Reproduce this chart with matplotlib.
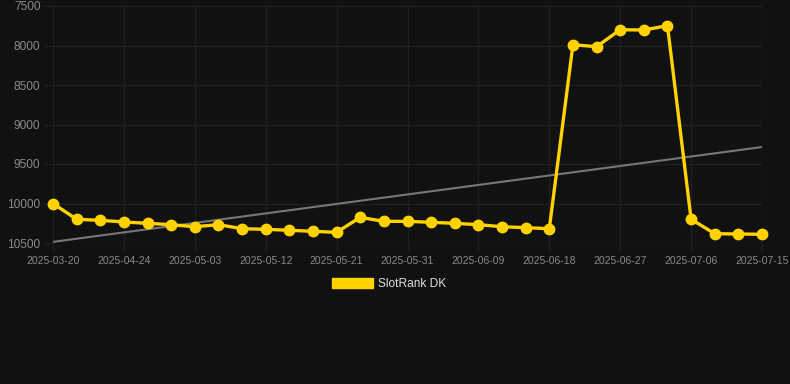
import matplotlib
matplotlib.use("Agg")
import matplotlib.pyplot as plt
from matplotlib.patches import Patch
import numpy as np

plt.rcParams['font.family'] = ['Liberation Sans', 'DejaVu Sans']

dates = ["2025-03-20", "2025-04-18", "2025-04-21", "2025-04-24", "2025-04-27",
         "2025-04-30", "2025-05-03", "2025-05-06", "2025-05-09", "2025-05-12",
         "2025-05-15", "2025-05-18", "2025-05-21", "2025-05-24", "2025-05-28",
         "2025-05-31", "2025-06-03", "2025-06-06", "2025-06-09", "2025-06-12",
         "2025-06-15", "2025-06-18", "2025-06-21", "2025-06-24", "2025-06-27",
         "2025-06-30", "2025-07-03", "2025-07-06", "2025-07-09", "2025-07-12",
         "2025-07-15"]
rank = [10000, 10200, 10213, 10234, 10251, 10268, 10294, 10268, 10319, 10327,
        10339, 10352, 10365, 10175, 10226, 10226, 10238, 10251, 10268, 10294,
        10306, 10319, 7990, 8015, 7800, 7804, 7749, 10200, 10382, 10386, 10390]
yticks = [7500, 8000, 8500, 9000, 9500, 10000, 10500]
series_name = "SlotRank DK"

bg = "#111111"
grid = "#1f1f1f"
gold = "#FFD200"

fig = plt.figure(figsize=(7.9, 3.84), dpi=100, facecolor=bg)
ax = fig.add_axes([53/790, 1-243/384, (762-53)/790, (243-6)/384], facecolor=bg)

x = np.arange(len(rank))
coef = np.polyfit(x, rank, 1)
trend = np.polyval(coef, x)
ax.plot(x, trend, color="#777777", lw=1.5, zorder=2)
ax.plot(x, rank, color=gold, lw=2.4, marker='o', markersize=7.5,
        markerfacecolor=gold, markeredgecolor=gold, zorder=3, clip_on=False)

ax.set_ylim(10500, 7500)
ax.set_xlim(0, len(rank)-1)
ax.set_yticks(yticks)
ax.set_yticklabels([str(v) for v in yticks])
ax.set_xticks(x[::3])
ax.set_xticklabels([dates[i] for i in x[::3]])
ax.grid(True, color=grid, lw=1)
for s in ax.spines.values():
    s.set_visible(False)
ax.tick_params(axis='x', colors=grid, labelcolor="#8a8a8a", labelsize=7.5,
               length=6, width=1, pad=3)
ax.tick_params(axis='y', colors=grid, labelcolor="#8a8a8a", labelsize=8.6,
               length=7, width=1, pad=2)

fig.legend(handles=[Patch(facecolor=gold, edgecolor=gold)], labels=[series_name],
           loc='center', bbox_to_anchor=(0.4925, 1-284/384), frameon=False,
           handlelength=3.4, handleheight=0.9, handletextpad=0.45,
           labelcolor="#dddddd", fontsize=8.6)

fig.savefig("out.png", dpi=100, facecolor=bg)
